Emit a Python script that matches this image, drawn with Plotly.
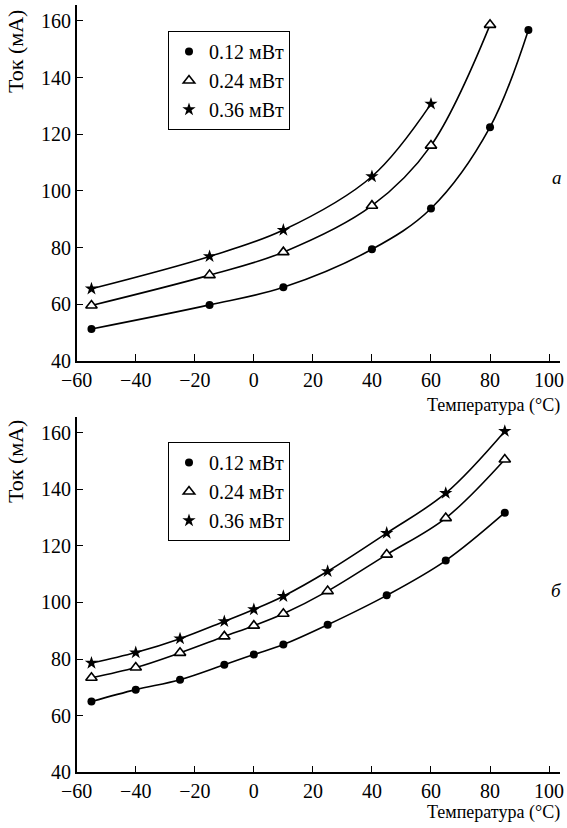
import plotly.graph_objects as go

# ---- data ----
top_x_012 = [-55, -15, 10, 40, 60, 80, 93]
top_y_012 = [51.3, 59.8, 66.0, 79.4, 93.8, 122.5, 156.8]
top_x_024 = [-55, -15, 10, 40, 60, 80]
top_y_024 = [59.6, 70.3, 78.4, 94.8, 116.0, 158.6]
top_x_036 = [-55, -15, 10, 40, 60]
top_y_036 = [65.5, 76.9, 86.2, 105.1, 130.7]

bot_x = [-55, -40, -25, -10, 0, 10, 25, 45, 65, 85]
bot_y_012 = [65.0, 69.2, 72.7, 78.0, 81.6, 85.1, 92.1, 102.5, 114.8, 131.7]
bot_y_024 = [73.4, 77.0, 82.2, 88.0, 91.8, 96.0, 104.0, 116.9, 129.8, 150.5]
bot_y_036 = [78.6, 82.3, 87.2, 93.3, 97.5, 102.2, 111.0, 124.5, 138.6, 160.5]

series_names = ["0.12 мВт", "0.24 мВт", "0.36 мВт"]
x_ticks = [-60, -40, -20, 0, 20, 40, 60, 80, 100]
y_ticks = [40, 60, 80, 100, 120, 140, 160]
x_title = "Температура (°C)"
y_title = "Ток (мА)"
panel_labels = ["а", "б"]

FONT = "Liberation Serif"
W, H = 567, 828

symbols = [
    dict(symbol="circle", size=8, color="black", line=dict(width=0)),
    dict(symbol="triangle-up", size=10, color="white", line=dict(width=1.6, color="black")),
    dict(symbol="star", size=10, color="black", line=dict(width=0)),
]

fig = go.Figure()

panels = [
    ("x", "y", "legend", [(top_x_012, top_y_012), (top_x_024, top_y_024), (top_x_036, top_y_036)]),
    ("x2", "y2", "legend2", [(bot_x, bot_y_012), (bot_x, bot_y_024), (bot_x, bot_y_036)]),
]

for xa, ya, lg, sets in panels:
    for (xs, ys) in sets:
        fig.add_trace(go.Scatter(x=xs, y=ys, xaxis=xa, yaxis=ya, mode="lines",
                                 line=dict(color="black", width=1.6, shape="spline", smoothing=1.0),
                                 showlegend=False, hoverinfo="skip"))
    for i, (xs, ys) in enumerate(sets):
        fig.add_trace(go.Scatter(x=xs, y=ys, xaxis=xa, yaxis=ya, mode="markers",
                                 marker=symbols[i], name=series_names[i], legend=lg))

def px_x(p):
    return p / W

def px_y(p):
    return 1 - p / H

xdom = [px_x(76.7), px_x(560)]
axis_common = dict(showline=True, linecolor="black", linewidth=1.5, ticks="inside",
                   ticklen=7, tickwidth=1.3, tickcolor="black", showgrid=False, zeroline=False,
                   tickfont=dict(family=FONT, size=20, color="black"), mirror=False,
                   automargin=False)

legend_common = dict(xanchor="left", yanchor="top", bordercolor="black", borderwidth=1,
                     bgcolor="white", font=dict(family=FONT, size=20, color="black"),
                     itemsizing="trace", tracegroupgap=0)

fig.update_layout(
    template="none",
    width=W, height=H,
    margin=dict(l=0, r=0, t=0, b=0, pad=0),
    paper_bgcolor="white", plot_bgcolor="white",
    font=dict(family=FONT, color="black", size=18),
    xaxis=dict(domain=xdom, range=[-60, 103.7], tickvals=x_ticks, anchor="y", **axis_common),
    yaxis=dict(domain=[px_y(361), px_y(5)], range=[40, 165.6], tickvals=y_ticks, anchor="x", **axis_common),
    xaxis2=dict(domain=xdom, range=[-60, 103.7], tickvals=x_ticks, anchor="y2", **axis_common),
    yaxis2=dict(domain=[px_y(772.3), px_y(417.3)], range=[40, 165.4], tickvals=y_ticks, anchor="x2", **axis_common),
    legend=dict(x=px_x(168), y=px_y(31), **legend_common),
    legend2=dict(x=px_x(168), y=px_y(442), **legend_common),
)

annotations = []
for yc in (406, 812):
    annotations.append(dict(text=x_title, x=px_x(562), y=px_y(yc), xref="paper", yref="paper",
                            xanchor="right", yanchor="middle", showarrow=False,
                            font=dict(family=FONT, size=18, color="black")))
for yc in (52, 462):
    annotations.append(dict(text=y_title, x=px_x(15), y=px_y(yc), xref="paper", yref="paper",
                            xanchor="center", yanchor="middle", textangle=-90, showarrow=False,
                            font=dict(family=FONT, size=22, color="black")))
for lbl, yc in zip(panel_labels, (177, 590)):
    annotations.append(dict(text="<i>" + lbl + "</i>", x=px_x(564), y=px_y(yc), xref="paper", yref="paper",
                            xanchor="right", yanchor="middle", showarrow=False,
                            font=dict(family=FONT, size=19, color="black")))
fig.update_layout(annotations=annotations)

fig.write_html("out.html",
               config={"displayModeBar": False},
               post_script="document.body.style.margin='0';document.documentElement.style.overflow='hidden';")
